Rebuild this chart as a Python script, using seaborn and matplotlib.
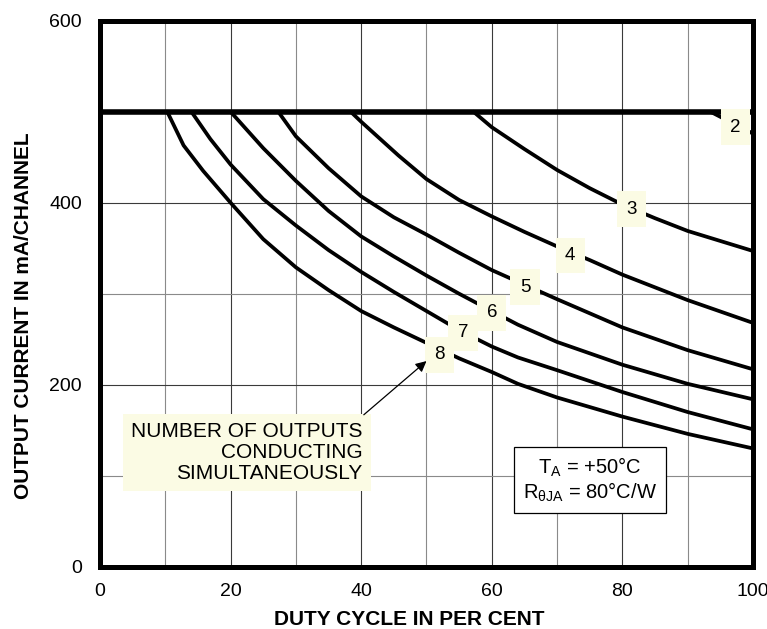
import numpy as np
import pandas as pd
import matplotlib
matplotlib.use("Agg")
import matplotlib.pyplot as plt
import seaborn as sns

# curves (duty cycle %, output current mA)
duty_8 = [10.3, 12.8, 15.8, 20, 25, 30, 35, 40, 45, 50, 55, 60, 64, 70, 80, 90, 100]
curr_8 = [500, 463, 435, 400, 360, 329, 304, 281, 263, 246, 229, 214, 201, 186, 165, 146, 130]
duty_7 = [14.0, 16.9, 20, 25, 30, 35, 40, 45, 50, 55, 60, 64, 70, 80, 90, 100]
curr_7 = [500, 470, 442, 404, 375, 348, 324, 302, 281, 260, 242, 230, 216, 192, 170, 151]
duty_6 = [20, 25, 30, 35, 40, 45, 50, 55, 60, 64, 70, 80, 90, 100]
curr_6 = [500, 460, 424, 391, 363, 341, 320, 300, 281, 266, 247, 222, 201, 184]
duty_5 = [27.3, 30, 35, 40, 45, 50, 55, 60, 70, 80, 90, 100]
curr_5 = [500, 473, 438, 407, 384, 365, 345, 326, 294, 263, 238, 217]
duty_4 = [38.4, 40, 45.7, 50, 55, 60, 65, 70, 75, 80, 90, 100]
curr_4 = [500, 489, 452, 426, 403, 385, 368, 352, 337, 321, 293, 268]
duty_3 = [57.2, 60, 65, 70, 75, 80, 85, 90, 100]
curr_3 = [500, 483, 459, 436, 416, 398, 383, 369, 347]
duty_2 = [93.5, 100]
curr_2 = [500, 476]
duty_limit = [0, 100]
curr_limit = [500, 500]

# label positions for the curve numbers
label_text = ["2", "3", "4", "5", "6", "7", "8"]
label_x = [97.3, 81.4, 72.0, 65.1, 60.0, 55.6, 52.0]
label_y = [483, 393, 342, 307, 279, 257, 233]

x_ticks = [0, 20, 40, 60, 80, 100]
y_ticks = [0, 200, 400, 600]

curves = {8: (duty_8, curr_8), 7: (duty_7, curr_7), 6: (duty_6, curr_6),
          5: (duty_5, curr_5), 4: (duty_4, curr_4), 3: (duty_3, curr_3),
          2: (duty_2, curr_2)}
df = pd.concat([pd.DataFrame({"duty": d, "current": c, "outputs": n})
                for n, (d, c) in curves.items()], ignore_index=True)

sns.set_theme(style="white")
plt.rcParams["font.family"] = ["Liberation Sans", "DejaVu Sans"]
plt.rcParams["text.color"] = "black"
plt.rcParams["axes.labelcolor"] = "black"
plt.rcParams["mathtext.fontset"] = "custom"
plt.rcParams["mathtext.rm"] = "Liberation Sans"
plt.rcParams["mathtext.it"] = "Liberation Sans:italic"

fig, ax = plt.subplots(figsize=(7.67, 6.29), dpi=100)
fig.subplots_adjust(left=0.1304, right=0.9817, bottom=0.099, top=0.967)

# grid: dark at labelled ticks, lighter in between
ax.set_xticks(x_ticks)
ax.set_yticks(y_ticks)
ax.set_xticks(np.arange(10, 100, 20), minor=True)
ax.set_yticks(np.arange(100, 600, 200), minor=True)
ax.grid(True, which="major", color="#3a3a3a", lw=0.8)
ax.grid(True, which="minor", color="#8a8a8a", lw=0.8)
ax.set_axisbelow(True)

sns.lineplot(data=df, x="duty", y="current", units="outputs", estimator=None,
             color="black", lw=2.7, sort=True, legend=False, ax=ax, zorder=3)
sns.lineplot(x=duty_limit, y=curr_limit, color="black", lw=4.0, ax=ax, zorder=3)

ax.set_xlim(0, 100)
ax.set_ylim(0, 600)
for s in ax.spines.values():
    s.set_visible(True)
    s.set_color("black")
    s.set_linewidth(3.6)
    s.set_zorder(5)

ax.tick_params(axis="both", which="both", length=0, labelsize=14,
               colors="black", labelcolor="black")
ax.tick_params(axis="x", pad=12)
ax.tick_params(axis="y", pad=13)

ax.set_xlabel("DUTY CYCLE IN PER CENT", fontsize=15, fontweight="bold")
ax.set_ylabel("OUTPUT CURRENT IN mA/CHANNEL", fontsize=15, fontweight="bold")
ax.xaxis.set_label_coords(0.473, -0.079)
ax.yaxis.set_label_coords(-0.102, 0.459)

for t, lx, ly in zip(label_text, label_x, label_y):
    ax.text(lx, ly, t, fontsize=13.5, ha="center", va="center", zorder=6,
            bbox=dict(boxstyle="square,pad=0.5", fc="#fbfbe4", ec="none"))

ax.text(40.2, 159, "NUMBER OF OUTPUTS\nCONDUCTING\nSIMULTANEOUSLY",
        fontsize=15, ha="right", va="top", multialignment="right",
        linespacing=1.12, zorder=6,
        bbox=dict(boxstyle="square,pad=0.4", fc="#fbfbe4", ec="none"))
ax.annotate("", xy=(50.0, 226), xytext=(40.4, 167),
            arrowprops=dict(arrowstyle="-|>", color="black", lw=0.9,
                            mutation_scale=16, shrinkA=0, shrinkB=0),
            zorder=7)

ax.text(75.0, 95.5, "T$_{\\mathrm{A}}$ = +50°C\nR$_{\\mathrm{θJA}}$ = 80°C/W",
        fontsize=14.5, ha="center", va="center", linespacing=1.1, zorder=6,
        bbox=dict(boxstyle="square,pad=0.45", fc="white", ec="black", lw=0.9))

fig.savefig("out.png", dpi=100)
